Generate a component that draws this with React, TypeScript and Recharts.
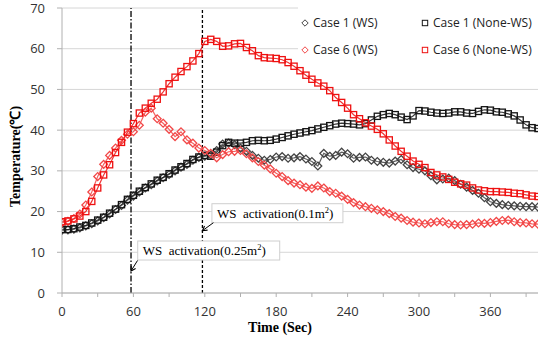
import React from 'react';
import { LineChart, Line, XAxis, YAxis, CartesianGrid, ReferenceLine, ReferenceDot, Legend } from 'recharts';

// ---- data (time in seconds, temperature in °C) ----
const times = [
  0, 5, 10, 15, 20, 25, 30, 35, 40, 45, 50, 55, 60, 65, 70, 75, 80, 85, 90, 95,
  100, 105, 110, 115, 120, 125, 130, 135, 140, 145, 150, 155, 160, 165, 170, 175, 180, 185, 190, 195,
  200, 205, 210, 215, 220, 225, 230, 235, 240, 245, 250, 255, 260, 265, 270, 275, 280, 285, 290, 295,
  300, 305, 310, 315, 320, 325, 330, 335, 340, 345, 350, 355, 360, 365, 370, 375, 380, 385, 390, 395,
  400,
];

const case1WS = [
  15.4, 15.5, 15.7, 16.0, 16.5, 17.0, 17.7, 18.5, 19.4, 20.5, 21.5, 22.8, 23.8, 24.8, 25.8, 26.6, 27.5, 28.3, 29.1, 30.0,
  30.9, 31.6, 32.6, 33.3, 33.6, 33.9, 35.0, 36.6, 36.8, 36.4, 35.6, 34.8, 33.8, 33.1, 32.6, 32.8, 33.4, 33.5, 33.1, 33.2,
  33.5, 32.9, 32.3, 31.2, 34.3, 33.6, 33.8, 34.6, 34.2, 33.1, 33.3, 33.4, 32.6, 32.3, 32.1, 31.9, 32.4, 32.8, 31.5, 30.8,
  30.4, 30.0, 28.8, 27.8, 28.0, 28.2, 27.6, 26.7, 26.0, 25.2, 24.5, 23.4, 22.4, 22.0, 21.7, 21.5, 21.4, 21.3, 21.2, 21.2,
  21.1,
];

const case1NoneWS = [
  15.6, 15.6, 15.8, 16.2, 16.6, 17.2, 17.9, 18.6, 19.6, 20.6, 21.7, 23.0, 24.0, 25.0, 25.9, 26.8, 27.7, 28.4, 29.3, 30.2,
  31.0, 31.8, 32.8, 33.4, 33.8, 33.6, 34.6, 36.2, 37.0, 36.8, 36.8, 37.0, 37.4, 37.5, 37.4, 37.5, 37.8, 38.2, 38.6, 39.0,
  39.3, 39.6, 39.9, 40.3, 40.7, 41.1, 41.5, 41.7, 41.6, 41.5, 41.3, 41.6, 42.5, 43.4, 43.8, 44.1, 43.8, 43.2, 42.6, 43.5,
  44.8, 44.7, 44.4, 44.2, 44.1, 44.2, 44.5, 44.5, 44.2, 44.1, 44.6, 45.0, 44.9, 44.5, 44.4, 44.0, 43.5, 42.5, 41.3, 40.6,
  40.4,
];

const case6WS = [
  17.3, 17.6, 18.3, 19.4, 21.6, 24.8, 28.6, 31.6, 33.8, 35.6, 37.5, 39.0, 39.6, 41.2, 44.4, 45.4, 42.8, 41.7, 40.2, 38.4,
  39.6, 37.6, 36.8, 35.6, 35.0, 34.3, 33.2, 34.0, 34.7, 34.8, 35.0, 34.2, 33.2, 32.3, 31.4, 30.5, 29.4, 28.6, 27.6, 27.0,
  26.6, 26.0, 25.7, 26.3, 25.8, 24.9, 24.5, 23.8, 23.0, 22.2, 21.6, 21.2, 20.8, 20.4, 20.0, 19.5, 18.8, 18.4, 17.8, 17.4,
  17.2, 17.0, 17.3, 17.5, 17.5, 17.0, 16.8, 16.7, 16.8, 16.9, 17.2, 17.1, 17.3, 17.6, 17.8, 17.9, 17.5, 17.3, 17.2, 17.0,
  16.9,
];

const case6NoneWS = [
  17.5, 17.7, 18.2, 18.9, 20.0, 22.5, 25.8, 29.0, 31.5, 34.5, 37.0, 39.5, 41.6, 44.2, 45.4, 46.6, 47.6, 49.4, 51.4, 53.0,
  54.4, 55.6, 57.0, 58.8, 61.8, 62.3, 61.8, 60.6, 60.7, 61.2, 61.3, 60.3, 59.5, 58.3, 57.8, 57.7, 57.6, 57.3, 56.6, 55.7,
  54.6, 53.5, 52.5, 51.6, 50.8, 49.7, 48.0, 46.8, 45.4, 43.8, 42.8, 41.8, 41.0, 40.2, 39.1, 37.6, 36.1, 34.8, 33.6, 32.4,
  31.6, 30.8, 29.6, 29.0, 28.5, 27.9, 27.2, 26.8, 26.5, 25.8, 25.3, 25.1, 24.9, 24.9, 24.8, 24.7, 24.5, 24.4, 24.1, 23.8,
  23.7,
];

const xTicks = [0, 30, 60, 90, 120, 150, 180, 210, 240, 270, 300, 330, 360, 390];
const xLabelStep = 60;
const yTicks = [0, 10, 20, 30, 40, 50, 60, 70];

const activationLarge = { time: 58, tipTemp: 5.4, label: 'WS  activation(0.25m', sup: '2' };
const activationSmall = { time: 118, tipTemp: 15.3, label: 'WS  activation(0.1m', sup: '2' };

const series = [
  { key: 'c1ws', name: 'Case 1 (WS)', values: case1WS, color: '#444444', shape: 'diamond' },
  { key: 'c1nws', name: 'Case 1 (None-WS)', values: case1NoneWS, color: '#141414', shape: 'square' },
  { key: 'c6ws', name: 'Case 6 (WS)', values: case6WS, color: '#f24848', shape: 'diamond' },
  { key: 'c6nws', name: 'Case 6 (None-WS)', values: case6NoneWS, color: '#ee1010', shape: 'square' },
];

const data = times.map((t, i) => {
  const row: Record<string, number> = { t };
  series.forEach((s) => {
    row[s.key] = s.values[i];
  });
  return row;
});

const makeDot = (color: string, shape: string) => (props: any) => {
  const { cx, cy, index } = props;
  if (cx == null || cy == null) return <g key={`e${index}`} />;
  if (shape === 'square') {
    return (
      <rect key={`s${index}`} x={cx - 3.1} y={cy - 3.1} width={6.2} height={6.2}
        fill="none" stroke={color} strokeWidth={1.3} />
    );
  }
  const r = 3.9;
  return (
    <polygon key={`d${index}`} points={`${cx},${cy - r} ${cx + r},${cy} ${cx},${cy + r} ${cx - r},${cy}`}
      fill="none" stroke={color} strokeWidth={1.3} />
  );
};

const Arrow = ({ x1, y1, x2, y2 }: { x1: number; y1: number; x2: number; y2: number }) => {
  const dx = x2 - x1;
  const dy = y2 - y1;
  const len = Math.sqrt(dx * dx + dy * dy) || 1;
  const ux = dx / len;
  const uy = dy / len;
  const hl = 4.5;
  const hw = 2.6;
  const bx = x2 - ux * hl;
  const by = y2 - uy * hl;
  return (
    <g>
      <line x1={x1} y1={y1} x2={x2} y2={y2} stroke="#000" strokeWidth={1} />
      <polyline points={`${bx - uy * hw},${by + ux * hw} ${x2},${y2} ${bx + uy * hw},${by - ux * hw}`}
        fill="none" stroke="#000" strokeWidth={1.1} />
    </g>
  );
};

const makeCallout = (label: string, sup: string, boxDx: number, boxDy: number, boxW: number, tailDx: number, tailDy: number) =>
  (props: any) => {
    const { cx, cy } = props;
    if (cx == null || cy == null) return <g />;
    const bx = cx + boxDx;
    const by = cy + boxDy;
    return (
      <g>
        <rect x={bx} y={by} width={boxW} height={19} fill="#fff" stroke="#cfcfcf" strokeWidth={1} />
        <text x={bx + 5} y={by + 14} fontFamily="'Liberation Serif', 'Times New Roman', serif" fontSize={13}
          fill="#000" style={{ whiteSpace: 'pre' }}>
          {label}
          <tspan dy={-5} fontSize={8.5}>{sup}</tspan>
          <tspan dy={5} fontSize={13}>)</tspan>
        </text>
        <Arrow x1={cx + tailDx} y1={cy + tailDy} x2={cx} y2={cy} />
      </g>
    );
  };

const LegendBox = () => {
  const cols = [7, 127];
  const rows = [22.7, 50];
  return (
    <div style={{ position: 'relative', width: 240, height: 62, background: '#fff' }}>
      {series.map((s, i) => {
        const mx = cols[i % 2];
        const my = rows[Math.floor(i / 2)];
        return (
          <React.Fragment key={s.key}>
            <svg width={10} height={10} style={{ position: 'absolute', left: mx - 5, top: my - 5 }}>
              {s.shape === 'square' ? (
                <rect x={2.3} y={2.3} width={5.4} height={5.4} fill="none" stroke={s.color} strokeWidth={1} />
              ) : (
                <polygon points="5,1.8 8.2,5 5,8.2 1.8,5" fill="none" stroke={s.color} strokeWidth={1} />
              )}
            </svg>
            <span style={{
              position: 'absolute', left: mx + 8, top: my - 9, fontFamily: "'Open Sans', sans-serif",
              fontSize: 12, lineHeight: '18px', color: '#222', whiteSpace: 'nowrap',
            }}>{s.name}</span>
          </React.Fragment>
        );
      })}
    </div>
  );
};

export default function App() {
  return (
    <div style={{ position: 'absolute', left: 0, top: 0, width: 539, height: 339, background: '#fff' }}>
      <LineChart width={539} height={339} data={data} margin={{ top: 8, right: 1, left: 0, bottom: 0 }}>
        <CartesianGrid vertical={false} stroke="#d6d6d6" strokeWidth={1} />
        <XAxis
          dataKey="t"
          type="number"
          domain={[0, 400]}
          ticks={xTicks}
          interval={0}
          allowDataOverflow
          tickFormatter={(v: number) => (v % xLabelStep === 0 ? String(v) : '')}
          tick={{ fontSize: 13, fill: '#333', fontFamily: "'Open Sans', sans-serif" }}
          tickLine={{ stroke: '#b0b0b0' }}
          axisLine={{ stroke: '#b0b0b0' }}
          tickSize={4}
          tickMargin={10}
          height={46}
          label={{
            content: (p: any) => {
              const vb = p.viewBox || { x: 62, y: 293, width: 476, height: 46 };
              return (
                <text x={vb.x + vb.width / 2 - 20} y={vb.y + 39} textAnchor="middle"
                  fontFamily="'Liberation Serif', 'Times New Roman', serif" fontWeight="bold" fontSize={14} fill="#000">
                  Time (Sec)
                </text>
              );
            },
          }}
        />
        <YAxis
          type="number"
          domain={[0, 70]}
          ticks={yTicks}
          interval={0}
          width={62}
          tick={{ fontSize: 13, fill: '#333', fontFamily: "'Open Sans', sans-serif" }}
          tickLine={{ stroke: '#b0b0b0' }}
          axisLine={{ stroke: '#b0b0b0' }}
          tickSize={5}
          tickMargin={12}
          label={{
            content: (p: any) => {
              const vb = p.viewBox || { x: 0, y: 8, width: 62, height: 285 };
              const cx = vb.x + 15;
              const cy = vb.y + vb.height / 2 + 6;
              return (
                <text x={cx} y={cy} transform={`rotate(-90 ${cx} ${cy})`} textAnchor="middle" dominantBaseline="central"
                  fontFamily="'Liberation Serif', 'Times New Roman', serif" fontWeight="bold" fontSize={14} fill="#000">
                  Temperature(℃)
                </text>
              );
            },
          }}
        />
        <ReferenceLine x={activationLarge.time} stroke="#000" strokeWidth={1.3} strokeDasharray="6 2 1.5 2" />
        <ReferenceLine x={activationSmall.time} stroke="#000" strokeWidth={1.3} strokeDasharray="3 2" />
        {series.map((s) => (
          <Line
            key={s.key}
            dataKey={s.key}
            name={s.name}
            stroke={s.color}
            strokeWidth={1.2}
            strokeOpacity={0.85}
            isAnimationActive={false}
            dot={makeDot(s.color, s.shape)}
            activeDot={false}
            legendType={s.shape === 'square' ? 'square' : 'diamond'}
          />
        ))}
        <ReferenceDot
          x={activationSmall.time}
          y={activationSmall.tipTemp}
          r={0}
          shape={makeCallout(activationSmall.label, activationSmall.sup, 9.5, -27, 131, 11, -8)}
        />
        <ReferenceDot
          x={activationLarge.time}
          y={activationLarge.tipTemp}
          r={0}
          shape={makeCallout(activationLarge.label, activationLarge.sup, 6.7, -30, 142, 6.5, -10.5)}
        />
        <Legend
          verticalAlign="middle"
          align="center"
          layout="horizontal"
          wrapperStyle={{ position: 'absolute', top: 0, left: 298, width: 240, height: 62, background: '#fff' }}
          content={() => <LegendBox />}
        />
      </LineChart>
    </div>
  );
}
